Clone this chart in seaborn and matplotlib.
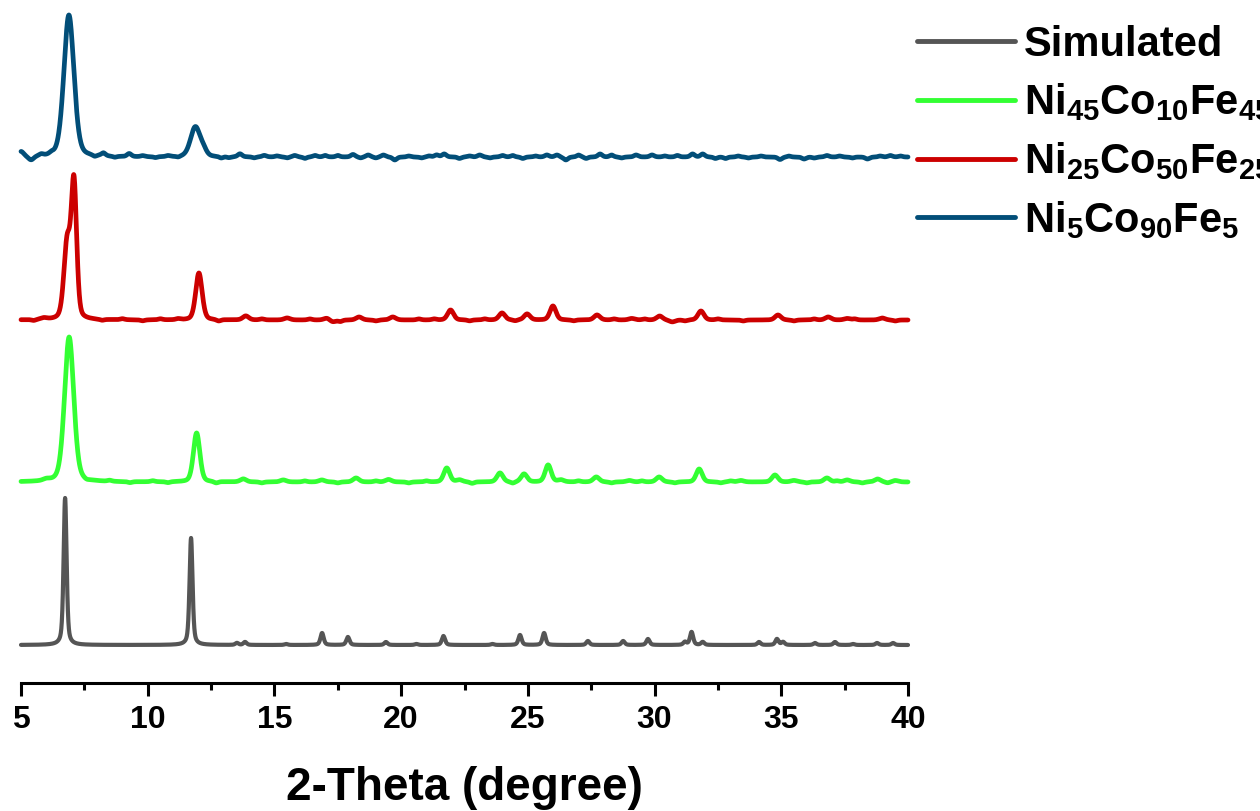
import numpy as np
import pandas as pd
import matplotlib
matplotlib.use("Agg")
import matplotlib.pyplot as plt
import seaborn as sns
from matplotlib.ticker import MultipleLocator

# ---------------- data ----------------
series_names = ["Simulated",
                r"Ni$_{45}$Co$_{10}$Fe$_{45}$",
                r"Ni$_{25}$Co$_{50}$Fe$_{25}$",
                r"Ni$_{5}$Co$_{90}$Fe$_{5}$"]
series_colors = ["#555555", "#33FF33", "#CC0000", "#024E78"]
series_offsets = [38, 201, 363, 526]
series_lw = [3.0, 3.4, 3.4, 3.4]

sim_pos = [6.74, 11.71, 13.52, 13.84, 15.46, 16.88, 17.90, 19.40, 20.60, 21.67, 23.60,
           24.69, 25.64, 27.37, 28.76, 29.74, 31.20, 31.46, 31.90, 34.12, 34.83, 35.07,
           36.33, 37.12, 37.83, 38.78, 39.41]
sim_h = [147, 107, 2, 3, 1, 12, 8, 3, 1, 9, 1,
         10, 12, 4, 4, 6, 3, 13, 3, 3, 6, 3,
         2, 3, 1, 2, 2]
sim_w = [0.14, 0.14] + [0.15] * 25

g_pos = [6.0, 6.9, 11.93, 13.77, 15.35, 16.87, 18.22, 19.5, 21.8, 22.3, 23.9, 24.85,
         25.8, 26.3, 27.7, 29.0, 30.18, 31.76, 33.4, 34.75, 35.5, 36.8, 37.6, 38.8, 39.5,
         7.6, 8.5, 9.3, 10.2, 10.8, 12.7, 14.5, 16.2, 17.5, 19.0, 20.3, 21.0, 22.8, 24.4,
         27.0, 28.3, 29.5, 30.8, 32.6, 33.0, 36.0, 37.2, 38.2, 39.2]
g_h = [1.5, 145, 49, 3, 2, 2, 4, 2.5, 14, 2, 9, 8,
       17, 2, 5, 1.5, 5, 13, 1.5, 7, 1.5, 4, 2, 3, 1.5,
       -1, 1, -1, 1, -1, -1.5, -1, 1, -1, 1, -1, 1, -1.5, -1.5,
       1, -1, 1, -1, -1, 1, -1, 1, -1, -1]
g_w = [0.3, 0.43, 0.30] + [0.28] * 22 + [0.2] * 24

r_pos = [5.9, 6.82, 7.09, 12.02, 13.87, 15.5, 17.07, 17.3, 18.34, 19.67, 21.95, 23.98,
         24.97, 25.99, 27.73, 29.1, 30.2, 30.7, 31.83, 34.87, 36.85, 37.6, 38.98,
         5.5, 8.2, 9.0, 9.8, 10.5, 11.2, 12.8, 14.5, 16.4, 17.6, 19.0, 20.7, 21.3, 22.7,
         23.3, 24.5, 26.8, 28.4, 29.6, 31.2, 32.5, 33.5, 35.5, 36.3, 37.9, 39.5]
r_h = [1.5, 75, 134, 47, 4, 2, 2, -2, 3, 3, 10, 7,
       6, 14, 5, 1.5, 4, -2, 9, 5, 3, 1.5, 2,
       -1, -1, 1, -1, 1, 1, -1.5, 1, 1, -1.5, -1, 1, 1, -1,
       1, -1, -1, 1, 1, -1, 1, -1, -1, 1, 1, -1]
r_w = [0.3, 0.3, 0.25, 0.3] + [0.28] * 19 + [0.2] * 26

b_pos = [5.0, 5.4, 6.89, 8.25, 9.27, 11.88, 12.2, 13.64, 14.6, 15.8, 16.6, 18.1, 18.7,
         19.3, 19.75, 21.4, 21.7, 23.1, 24.0, 25.75, 26.15, 26.5, 27.85, 29.27, 29.9,
         31.5, 31.9, 34.95, 35.9, 36.8, 38.4, 39.3,
         5.8, 6.2, 7.9, 8.7, 9.8, 10.3, 10.8, 11.2, 12.9, 13.2, 14.2, 15.1, 15.5, 16.2,
         17.0, 17.5, 18.4, 19.0, 20.3, 20.8, 21.1, 22.3, 22.7, 23.5, 24.4, 24.8, 25.3,
         27.0, 27.3, 28.3, 28.7, 30.4, 30.9, 32.4, 32.8, 33.3, 33.7, 34.2, 35.3, 36.3,
         37.3, 37.8, 38.9, 39.7]
b_h = [5, -4, 142, 3, 3, 30, 5, 3, 1.5, 1.5, 1.5, 2.5, 2,
       2, -3, 2, 3, 2, 1.5, 2, 2, -3, 3, 2, 2,
       3, 3, -2.5, -2, 1.5, -2, 1.5,
       1.5, 1.5, -1.5, -1, 1, -1, 1, -1, -1.5, -1, -1, 1, -1, -1.5,
       1.5, 1.5, -1, -1, 1, -1, 1, -1.5, 1, -1, 1.5, -1.5, 1,
       2, -1.5, 2, -1, 1, 1.5, -1.5, -1.5, 1, -1, 1, 1, -1,
       1, -1, 1, 1]
b_w = [0.25, 0.25, 0.47, 0.2, 0.2, 0.45, 0.3] + [0.2] * 25 + [0.18] * 44

peak_tables = [(sim_pos, sim_h, sim_w, 0.5),
               (g_pos, g_h, g_w, 0.3),
               (r_pos, r_h, r_w, 0.3),
               (b_pos, b_h, b_w, 0.3)]

x_ticks = [5, 10, 15, 20, 25, 30, 35, 40]
x_label = "2-Theta (degree)"

# ---------------- build profiles ----------------
two_theta = np.linspace(5, 40, 3501)


def profile(pos, hts, wds, eta):
    y = np.zeros_like(two_theta)
    for c, h, w in zip(pos, hts, wds):
        d = (two_theta - c) / w
        g = np.exp(-4 * np.log(2) * d ** 2)
        l = 1.0 / (1 + 4 * d ** 2)
        y += h * ((1 - eta) * g + eta * l)
    return y


frames = []
for name, off, (p, h, w, eta) in zip(series_names, series_offsets, peak_tables):
    frames.append(pd.DataFrame({"x": two_theta, "y": profile(p, h, w, eta) + off,
                                "series": name}))
df = pd.concat(frames, ignore_index=True)

# ---------------- plot ----------------
sns.set_style("white")
plt.rcParams["font.family"] = ["Liberation Sans", "DejaVu Sans"]
plt.rcParams["font.weight"] = "bold"
plt.rcParams["text.color"] = "black"
plt.rcParams["axes.labelcolor"] = "black"
plt.rcParams["xtick.color"] = "black"
plt.rcParams["mathtext.fontset"] = "custom"
plt.rcParams["mathtext.bf"] = "Liberation Sans:bold"
plt.rcParams["mathtext.rm"] = "Liberation Sans:bold"
plt.rcParams["mathtext.it"] = "Liberation Sans:bold"
plt.rcParams["mathtext.default"] = "bf"

fig = plt.figure(figsize=(12.6, 8.11), dpi=100)
ax = fig.add_axes([21 / 1260, 128 / 811, 887 / 1260, 683 / 811])

for name, col, lw in zip(series_names, series_colors, series_lw):
    sub = df[df["series"] == name]
    sns.lineplot(data=sub, x="x", y="y", color=col, lw=lw, ax=ax, label=name,
                 estimator=None, sort=False)
for ln in ax.lines:
    ln.set_clip_on(False)
    ln.set_solid_joinstyle("round")
    ln.set_solid_capstyle("round")

ax.set_xlim(5, 40)
ax.set_ylim(0, 683)
ax.set_yticks([])
ax.set_ylabel("")
for s in ["left", "right", "top"]:
    ax.spines[s].set_visible(False)
ax.spines["bottom"].set_linewidth(2.2)
ax.spines["bottom"].set_color("black")
ax.set_xticks(x_ticks)
ax.xaxis.set_minor_locator(MultipleLocator(2.5))
ax.tick_params(axis="x", which="major", direction="out", length=9, width=2.2,
               labelsize=23, pad=7, colors="black", bottom=True)
ax.tick_params(axis="x", which="minor", direction="out", length=5, width=2.2,
               bottom=True, colors="black")
for t in ax.get_xticklabels():
    t.set_fontweight("bold")
ax.set_xlabel(x_label, fontsize=33, fontweight="bold", labelpad=22, color="black")

ax.get_legend().remove()
handles, labels = ax.get_legend_handles_labels()
leg = fig.legend(handles, labels, loc="upper left",
                 bbox_to_anchor=(917 / 1260, 1 - 25 / 811),
                 frameon=False, borderpad=0, borderaxespad=0,
                 handlelength=2.35, handletextpad=0.22, labelspacing=0.40,
                 prop={"family": "Liberation Sans", "weight": "bold", "size": 30})
for lh in leg.get_lines():
    lh.set_linewidth(3.5)
for t in leg.get_texts():
    t.set_color("black")

fig.savefig("out.png", dpi=100)
